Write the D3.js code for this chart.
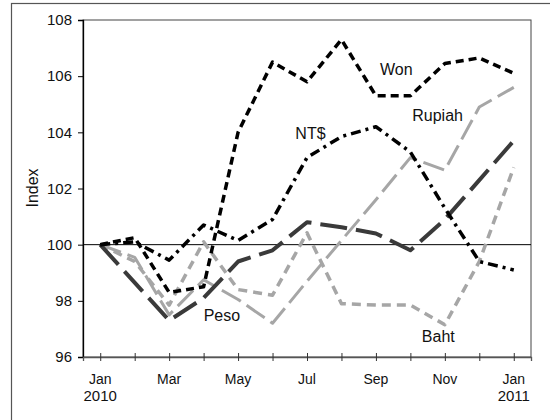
<!DOCTYPE html>
<html>
<head>
<meta charset="utf-8">
<script src="https://cdn.jsdelivr.net/npm/d3@7"></script>
<style>
  body { margin: 0; background: #fff; }
  svg text { font-family: "Liberation Sans", Arial, sans-serif; fill: #111; }
</style>
</head>
<body>
<svg id="drawspace" width="550" height="420"></svg>
<script>
// monthly index values, Jan 2010 .. Jan 2011
let months = ["Jan","Feb","Mar","Apr","May","Jun","Jul","Aug","Sep","Oct","Nov","Dec","Jan"];
let years = ["2010","","","","","","","","","","","","2011"];
let won    = [100, 100.25, 98.3, 98.5, 104.0, 106.5, 105.8, 107.3, 105.3, 105.3, 106.45, 106.65, 106.1];
let ntd    = [100, 100.1, 99.45, 100.7, 100.15, 100.9, 103.1, 103.85, 104.2, 103.3, 101.3, 99.4, 99.1];
let rupiah = [100, 99.55, 97.5, 98.75, 98.05, 97.2, 98.7, 100.15, 101.6, 103.1, 102.65, 104.9, 105.6];
let peso   = [100, 98.65, 97.3, 98.1, 99.4, 99.8, 100.8, 100.62, 100.4, 99.8, 100.9, 102.3, 103.7];
let baht   = [100, 99.4, 97.85, 100.1, 98.4, 98.2, 100.42, 97.9, 97.85, 97.85, 97.15, 99.4, 102.75];
let yTicks = [96, 98, 100, 102, 104, 106, 108];
// where each series name sits, in (month index, index value)
let labelNames = ["Won","Rupiah","NT$","Peso","Baht"];
let labelMonth = [8.59, 9.79, 6.1, 3.53, 9.81];
let labelValue = [106.05, 104.39, 103.76, 97.29, 96.52];

let svg = d3.select("#drawspace");
let pl = 83, pr = 531, pt = 20, pb = 357;

let xscale = d3.scaleLinear().domain([-0.5, 12.5]).range([pl, pr]);
let yscale = d3.scaleLinear().domain([96, 108]).range([pb, pt]);

// outer chart frame
svg.append("rect").attr("x", 11.5).attr("y", 3.5).attr("width", 600).attr("height", 500)
  .attr("fill", "none").attr("stroke", "#555").attr("stroke-width", 1.2);

// plot border
svg.append("rect").attr("x", pl).attr("y", pt).attr("width", pr - pl).attr("height", pb - pt)
  .attr("fill", "none").attr("stroke", "#444").attr("stroke-width", 1);

// 100 reference line
svg.append("line").attr("x1", pl).attr("x2", pr)
  .attr("y1", yscale(100)).attr("y2", yscale(100)).attr("stroke", "#000").attr("stroke-width", 1);

// y axis
let yAxis = svg.append("g").attr("transform", "translate(" + pl + ",0)")
  .call(d3.axisLeft(yscale).tickValues(yTicks).tickSize(5).tickPadding(6).tickFormat(d3.format("d")));
yAxis.select(".domain").attr("stroke", "#000").attr("stroke-width", 1.3);
yAxis.selectAll(".tick line").attr("stroke", "#000");
yAxis.selectAll("text").style("font-size", "15px").attr("fill", "#111");

svg.append("text").attr("transform", "translate(38,188) rotate(-90)")
  .attr("text-anchor", "middle").style("font-size", "16px").text("Index");

// x axis, crossing ticks every month
let xAxis = svg.append("g").attr("transform", "translate(0," + pb + ")")
  .call(d3.axisBottom(xscale).tickValues(d3.range(13)).tickSize(4).tickFormat(""));
xAxis.select(".domain").attr("stroke", "#555").attr("stroke-width", 1.3);
xAxis.selectAll(".tick line").attr("y1", -4).attr("stroke", "#333");

let xl = svg.append("g");
months.forEach((m, i) => {
  if (i % 2) return;
  xl.append("text").attr("x", xscale(i)).attr("y", 384)
    .attr("text-anchor", "middle").style("font-size", "14px").text(m);
  if (years[i]) {
    xl.append("text").attr("x", xscale(i)).attr("y", 401)
      .attr("text-anchor", "middle").style("font-size", "15px").text(years[i]);
  }
});

let line = d3.line().x((d, i) => xscale(i)).y(d => yscale(d));

let series = [
  { v: rupiah, color: "#a6a6a6", w: 3,   dash: "22,7" },
  { v: baht,   color: "#a6a6a6", w: 3.5, dash: "9,6" },
  { v: peso,   color: "#3a3a3a", w: 4,   dash: "27,9" },
  { v: ntd,    color: "#000",    w: 3.5, dash: "10,5,3,5" },
  { v: won,    color: "#000",    w: 3.5, dash: "8,5" }
];
series.forEach(s => {
  svg.append("path").datum(s.v).attr("d", line)
    .attr("fill", "none").attr("stroke", s.color).attr("stroke-width", s.w)
    .attr("stroke-dasharray", s.dash).attr("stroke-linejoin", "round");
});

svg.append("g").selectAll("text").data(labelNames).enter().append("text")
  .attr("x", (d, i) => xscale(labelMonth[i]))
  .attr("y", (d, i) => yscale(labelValue[i]))
  .attr("text-anchor", "middle").style("font-size", "16px")
  .text(d => d);
</script>
</body>
</html>
